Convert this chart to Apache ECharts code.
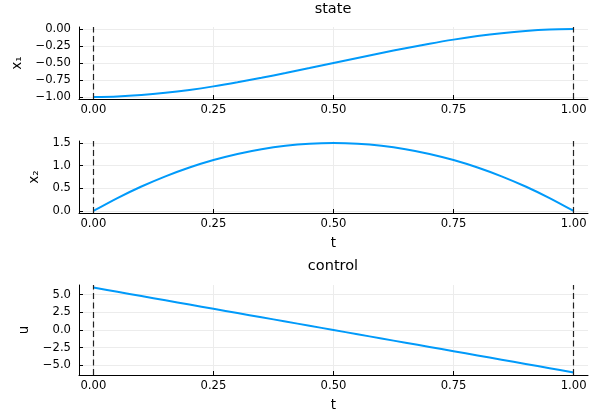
<!DOCTYPE html>
<html>
<head>
<meta charset="utf-8">
<script src="https://cdn.jsdelivr.net/npm/echarts@6/dist/echarts.min.js"></script>
<style>
  html, body { margin: 0; padding: 0; background: #fff; }
  #chart { width: 600px; height: 420px; }
</style>
</head>
<body>
<div id="chart"></div>
<script>
// time samples
const tValues = [0, 0.05, 0.1, 0.15, 0.2, 0.25, 0.3, 0.35, 0.4, 0.45, 0.5,
                 0.55, 0.6, 0.65, 0.7, 0.75, 0.8, 0.85, 0.9, 0.95, 1];
const x1Values = [-1, -0.993, -0.972, -0.939, -0.896, -0.844, -0.784, -0.718, -0.648, -0.575, -0.5,
                  -0.425, -0.352, -0.282, -0.216, -0.156, -0.104, -0.061, -0.028, -0.007, 0];
const x2Values = [0, 0.285, 0.54, 0.765, 0.96, 1.125, 1.26, 1.365, 1.44, 1.485, 1.5,
                  1.485, 1.44, 1.365, 1.26, 1.125, 0.96, 0.765, 0.54, 0.285, 0];
const uValues = [6, 5.4, 4.8, 4.2, 3.6, 3, 2.4, 1.8, 1.2, 0.6, 0,
                 -0.6, -1.2, -1.8, -2.4, -3, -3.6, -4.2, -4.8, -5.4, -6];

const tTicks = [0, 0.25, 0.5, 0.75, 1];
const x1Ticks = [-1, -0.75, -0.5, -0.25, 0];
const x2Ticks = [0, 0.5, 1, 1.5];
const uTicks = [-5, -2.5, 0, 2.5, 5];
const boundaryTimes = [0, 1];

const fontFamily = 'DejaVu Sans';
const lineColor = '#009AFA';
const tickFont = 11.6;
const nameFont = 13.5;

function fmt(digits) {
    return function (v) {
        let s = Math.abs(v).toFixed(digits);
        return (v < 0 ? '\u2212' : '') + s;
    };
}

function pairs(ys) {
    return tValues.map((t, i) => [t, ys[i]]);
}

function xAxisFor(index, withName) {
    return {
        type: 'value',
        gridIndex: index,
        min: -0.03,
        max: 1.03,
        name: withName ? 't' : '',
        nameLocation: 'middle',
        nameGap: 23,
        nameTextStyle: { fontFamily: fontFamily, fontSize: nameFont, color: '#000' },
        axisLine: { show: true, onZero: false, lineStyle: { color: '#000', width: 1 } },
        axisTick: { show: true, inside: true, length: 4, customValues: tTicks, lineStyle: { color: '#000' } },
        axisLabel: { customValues: tTicks, formatter: fmt(2), fontFamily: fontFamily, fontSize: tickFont, color: '#000', margin: 5 },
        splitLine: { show: true, lineStyle: { color: '#ececec', width: 1 } }
    };
}

function yAxisFor(index, name, min, max, ticks, digits, gap) {
    return {
        type: 'value',
        gridIndex: index,
        min: min,
        max: max,
        name: name,
        nameLocation: 'middle',
        nameGap: gap,
        nameTextStyle: { fontFamily: fontFamily, fontSize: nameFont, color: '#000' },
        axisLine: { show: true, onZero: false, lineStyle: { color: '#000', width: 1 } },
        axisTick: { show: true, inside: true, length: 4, customValues: ticks, lineStyle: { color: '#000' } },
        axisLabel: { customValues: ticks, formatter: fmt(digits), fontFamily: fontFamily, fontSize: tickFont, color: '#000', margin: 8 },
        splitLine: { show: true, lineStyle: { color: '#ececec', width: 1 } }
    };
}

function seriesFor(index, ys) {
    return {
        type: 'line',
        xAxisIndex: index,
        yAxisIndex: index,
        data: pairs(ys),
        showSymbol: false,
        smooth: 0.3,
        lineStyle: { color: lineColor, width: 2 },
        animation: false,
        markLine: {
            silent: true,
            symbol: 'none',
            label: { show: false },
            lineStyle: { color: '#222', type: [6, 3.5], width: 1.2 },
            data: boundaryTimes.map(t => ({ xAxis: t }))
        }
    };
}

let option = {
    animation: false,
    title: [
        { text: 'state', left: 333, top: 2, padding: 0, textAlign: 'center',
          textStyle: { fontFamily: fontFamily, fontSize: 14.5, fontWeight: 'normal', color: '#000' } },
        { text: 'control', left: 333, top: 259, padding: 0, textAlign: 'center',
          textStyle: { fontFamily: fontFamily, fontSize: 14.5, fontWeight: 'normal', color: '#000' } }
    ],
    grid: [
        { left: 79, right: 12, top: 27, height: 72 },
        { left: 79, right: 12, top: 141, height: 72 },
        { left: 79, right: 12, top: 285, height: 90 }
    ],
    xAxis: [xAxisFor(0, false), xAxisFor(1, true), xAxisFor(2, true)],
    yAxis: [
        yAxisFor(0, 'x\u2081', -1.03, 0.03, x1Ticks, 2, 47),
        yAxisFor(1, 'x\u2082', -0.045, 1.545, x2Ticks, 1, 30),
        yAxisFor(2, 'u', -6.36, 6.36, uTicks, 1, 40)
    ],
    series: [seriesFor(0, x1Values), seriesFor(1, x2Values), seriesFor(2, uValues)]
};

let chart = echarts.init(document.getElementById('chart'));
chart.setOption(option);
</script>
</body>
</html>
